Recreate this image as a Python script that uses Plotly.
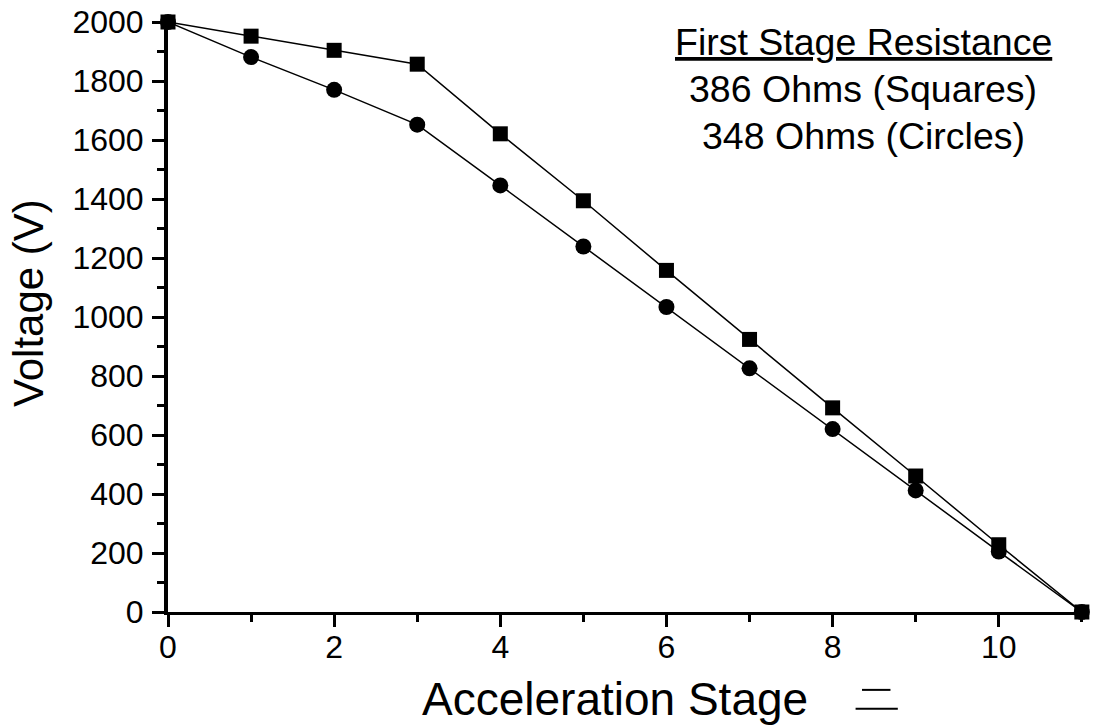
import plotly.graph_objects as go

stages = [0, 1, 2, 3, 4, 5, 6, 7, 8, 9, 10, 11]
squares_386 = [2000, 1952, 1904, 1857, 1621, 1394, 1158, 924, 692, 461, 228, 0]
circles_348 = [2000, 1881, 1770, 1652, 1446, 1239, 1034, 826, 620, 412, 205, 0]

x_ticks = [0, 2, 4, 6, 8, 10]
y_ticks = [0, 200, 400, 600, 800, 1000, 1200, 1400, 1600, 1800, 2000]

FONT = "Liberation Sans, Arial, sans-serif"

fig = go.Figure()
fig.add_trace(go.Scatter(
    x=stages, y=squares_386, mode="lines+markers",
    line=dict(color="black", width=1.5),
    marker=dict(symbol="square", size=15, color="black"),
    cliponaxis=False, showlegend=False, name="386 Ohms"))
fig.add_trace(go.Scatter(
    x=stages, y=circles_348, mode="lines+markers",
    line=dict(color="black", width=1.5),
    marker=dict(symbol="circle", size=16, color="black"),
    cliponaxis=False, showlegend=False, name="348 Ohms"))

fig.update_layout(
    width=1095, height=728,
    margin=dict(l=168, r=9, t=22, b=116, autoexpand=False),
    paper_bgcolor="white", plot_bgcolor="white",
    font=dict(family=FONT, color="black", size=32),
    xaxis=dict(
        range=[0, 11.05], tickvals=x_ticks, showgrid=False, zeroline=False,
        showline=True, linecolor="black", linewidth=3,
        ticks="outside", ticklen=12, tickwidth=2.5, tickcolor="black",
        minor=dict(dtick=1, ticks="outside", ticklen=7, tickwidth=2.5, tickcolor="black"),
        tickfont=dict(size=32, family=FONT),
        ticklabelstandoff=-7, automargin=False,
    ),
    yaxis=dict(
        range=[0, 2000], tickvals=y_ticks, showgrid=False, zeroline=False,
        showline=True, linecolor="black", linewidth=4,
        ticks="outside", ticklen=12, tickwidth=2.5, tickcolor="black",
        minor=dict(dtick=100, ticks="outside", ticklen=7, tickwidth=2.5, tickcolor="black"),
        tickfont=dict(size=32, family=FONT),
        ticklabelstandoff=2, automargin=False,
    ),
)

# axis titles
fig.add_annotation(text="Acceleration Stage", xref="paper", yref="paper",
                   x=(615 - 168) / 918, y=(612 - 699) / 590,
                   xanchor="center", yanchor="middle", showarrow=False,
                   font=dict(size=46, family=FONT, color="black"))
fig.add_annotation(text="Voltage (V)", xref="paper", yref="paper",
                   x=(28 - 168) / 918, y=(612 - 303) / 590, textangle=-90,
                   xanchor="center", yanchor="middle", showarrow=False,
                   font=dict(size=42, family=FONT, color="black"))

ann_lines = ["<u>First Stage Resistance</u>", "386 Ohms (Squares)", "348 Ohms (Circles)"]
ann_y = [0.966, 0.886, 0.806]
for txt, yy in zip(ann_lines, ann_y):
    fig.add_annotation(text=txt, xref="paper", yref="paper", x=(863 - 168) / 918, y=yy,
                       xanchor="center", yanchor="middle", showarrow=False,
                       font=dict(size=37.5, family=FONT, color="black"))

# scan artifact next to the x-axis title
fig.add_shape(type="line", xref="paper", yref="paper", x0=0.756, x1=0.787, y0=-0.132, y1=-0.132,
              line=dict(color="black", width=2))
fig.add_shape(type="line", xref="paper", yref="paper", x0=0.749, x1=0.795, y0=-0.164, y1=-0.164,
              line=dict(color="black", width=2))

fig.write_html("out.html")
